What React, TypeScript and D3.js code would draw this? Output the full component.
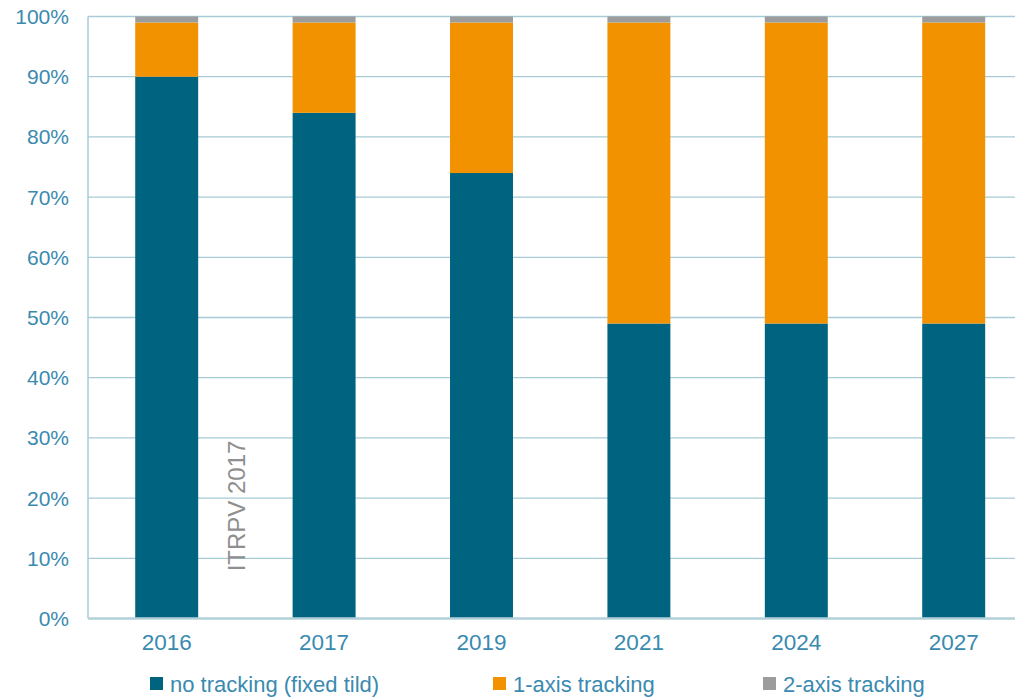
import React from "react";
import * as d3 from "d3";

const years = ["2016", "2017", "2019", "2021", "2024", "2027"];
const noTracking = [90, 84, 74, 49, 49, 49];
const oneAxis = [9, 15, 25, 50, 50, 50];
const twoAxis = [1, 1, 1, 1, 1, 1];
const seriesNames = ["no tracking (fixed tild)", "1-axis tracking", "2-axis tracking"];
const seriesColors = ["#00637f", "#f39200", "#9c9c9c"];
const yTicks = [0, 10, 20, 30, 40, 50, 60, 70, 80, 90, 100];

const W = 1015;
const H = 700;
const left = 88;
const top = 16.5;
const bottom = 618.5;
const textColor = "#3a8ab0";
const gridColor = "#a9cbd6";

export default function App() {
  const x = d3.scaleBand<string>().domain(years).range([left, left + 6 * 157.4]).paddingInner(0.6).paddingOuter(0.3);
  const y = d3.scaleLinear().domain([0, 100]).range([bottom, top]);
  const rows = years.map((yr, i) => ({ yr, a: noTracking[i], b: oneAxis[i], c: twoAxis[i] }));
  const stacked = d3.stack<any>().keys(["a", "b", "c"])(rows);
  const legendX = [150, 493, 763];
  return (
    <svg width={W} height={H} style={{ position: "absolute", left: 0, top: 0, fontFamily: "Liberation Sans, Arial, sans-serif" }}>
      <rect width={W} height={H} fill="#fff" />
      {yTicks.map((t) => (
        <g key={t}>
          {t > 0 && <line x1={left} x2={W} y1={y(t)} y2={y(t)} stroke={gridColor} strokeWidth={1.3} />}
          <text x={69} y={y(t)} dy="0.36em" textAnchor="end" fill={textColor} fontSize={21}>{t}%</text>
        </g>
      ))}
      <line x1={left} x2={left} y1={top} y2={bottom} stroke={gridColor} strokeWidth={1.5} />
      <text transform={`translate(245,506) rotate(-90)`} textAnchor="middle" fill="#8f8f8f" fontSize={24}>ITRPV 2017</text>
      {stacked.map((s, si) => (
        <g key={si} fill={seriesColors[si]}>
          {s.map((d, i) => (
            <rect key={i} x={x(years[i])} width={x.bandwidth()} y={y(d[1])} height={y(d[0]) - y(d[1])} />
          ))}
        </g>
      ))}
      <line x1={left} x2={W} y1={bottom} y2={bottom} stroke="#b3d0da" strokeWidth={2.5} />
      {years.map((yr) => (
        <text key={yr} x={(x(yr) as number) + x.bandwidth() / 2} y={650} textAnchor="middle" fill={textColor} fontSize={22.5}>{yr}</text>
      ))}
      {seriesNames.map((n, i) => (
        <g key={n}>
          <rect x={legendX[i]} y={677} width={13} height={13} fill={seriesColors[i]} />
          <text x={legendX[i] + 20} y={692} fill={textColor} fontSize={22}>{n}</text>
        </g>
      ))}
    </svg>
  );
}
